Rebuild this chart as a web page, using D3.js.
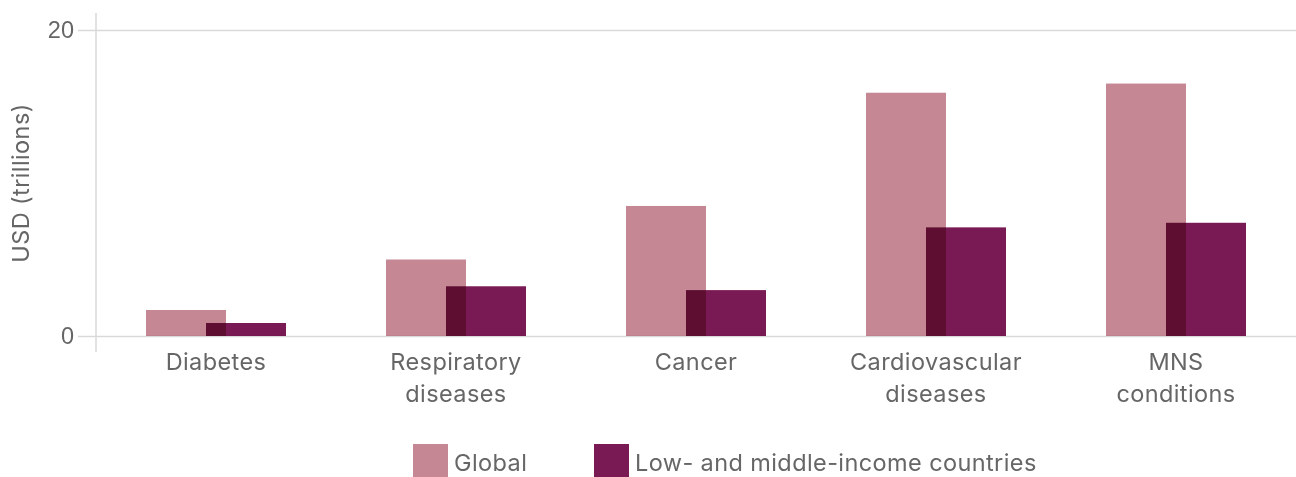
<!DOCTYPE html>
<html>
<head>
<meta charset="utf-8">
<script src="https://cdn.jsdelivr.net/npm/d3@7"></script>
<style>
  html, body { margin: 0; padding: 0; background: #fff; }
  svg { display: block; font-family: Inter, "Noto Sans", sans-serif; }
  .bar { mix-blend-mode: multiply; }
  .lbl { letter-spacing: 0.4px; }
</style>
</head>
<body>
<svg id="chart" width="1296" height="477"></svg>
<script>
// Economic cost by disease group, USD trillions
const categories = [["Diabetes"], ["Respiratory", "diseases"], ["Cancer"], ["Cardiovascular", "diseases"], ["MNS", "conditions"]];
const globalValues = [1.7, 5.0, 8.5, 15.9, 16.5];
const lmicValues = [0.85, 3.25, 3.0, 7.1, 7.4];
const seriesNames = ["Global", "Low- and middle-income countries"];
const seriesColors = ["#c48793", "#7a1a54"];
const yTicks = [0, 20];

const svg = d3.select("#chart");
const W = 1296;
const margin = { left: 96 };
const plotBottom = 336, plotTop = 30;

const x = d3.scaleBand().domain(d3.range(categories.length)).range([margin.left, W]);
const y = d3.scaleLinear().domain([0, 20]).range([plotBottom, plotTop]);

const textColor = "#666";
const gridColor = "#d9d9d9";
const fontSize = "23.5px";

// gridlines + tick labels
const yAxis = d3.axisLeft(y).tickValues(yTicks).tickSize(18).tickPadding(4).tickFormat(d3.format("d"));
const yg = svg.append("g").attr("transform", `translate(${margin.left},0)`).call(yAxis);
yg.select(".domain").remove();
yg.selectAll(".tick line").attr("stroke", gridColor).attr("stroke-width", 1.5);
yg.selectAll(".tick text").attr("fill", textColor).style("font-size", fontSize).attr("font-family", null);
yg.selectAll(".tick").append("line")
  .attr("x1", 0).attr("x2", W - margin.left)
  .attr("stroke", gridColor).attr("stroke-width", 1.5);

// vertical axis line
svg.append("line")
  .attr("x1", margin.left).attr("x2", margin.left)
  .attr("y1", 13).attr("y2", 352)
  .attr("stroke", gridColor).attr("stroke-width", 1.5);

// y axis title
svg.append("text")
  .attr("class", "lbl")
  .attr("transform", `translate(29,183) rotate(-90)`)
  .attr("text-anchor", "middle")
  .attr("fill", textColor)
  .style("font-size", fontSize)
  .text("USD (trillions)");

// bars
const barW = 80;
const bars = svg.append("g");
bars.selectAll("rect.g")
  .data(globalValues)
  .join("rect")
  .attr("class", "bar")
  .attr("x", (d, i) => x(i) + x.bandwidth() / 2 - 70)
  .attr("width", barW)
  .attr("y", d => y(d))
  .attr("height", d => y(0) - y(d))
  .attr("fill", seriesColors[0]);
bars.selectAll("rect.l")
  .data(lmicValues)
  .join("rect")
  .attr("class", "bar")
  .attr("x", (d, i) => x(i) + x.bandwidth() / 2 - 10)
  .attr("width", barW)
  .attr("y", d => y(d))
  .attr("height", d => y(0) - y(d))
  .attr("fill", seriesColors[1]);

// category labels
const xl = svg.append("g");
categories.forEach((lines, i) => {
  const t = xl.append("text")
    .attr("class", "lbl")
    .attr("text-anchor", "middle")
    .attr("fill", textColor)
    .style("font-size", fontSize);
  lines.forEach((ln, j) => {
    t.append("tspan")
      .attr("x", x(i) + x.bandwidth() / 2)
      .attr("y", 370 + j * 32)
      .text(ln);
  });
});

// legend
const legendX = [413, 594];
const lg = svg.append("g");
seriesNames.forEach((name, i) => {
  lg.append("rect")
    .attr("x", legendX[i]).attr("y", 444)
    .attr("width", 35).attr("height", 33)
    .attr("fill", seriesColors[i]);
  lg.append("text")
    .attr("class", "lbl")
    .attr("x", legendX[i] + 41).attr("y", 471)
    .attr("fill", textColor)
    .style("font-size", fontSize)
    .text(name);
});
</script>
</body>
</html>
